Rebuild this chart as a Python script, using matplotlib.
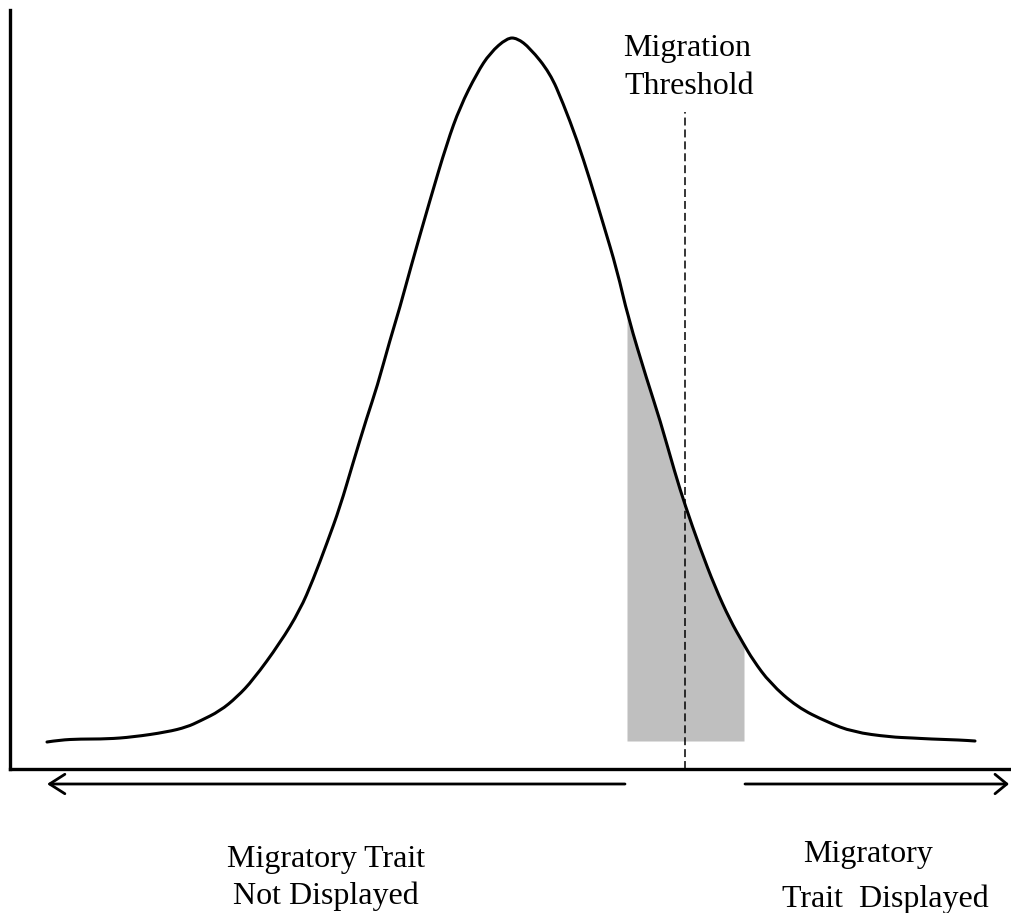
import numpy as np
import matplotlib
matplotlib.use("Agg")
import matplotlib.pyplot as plt
from matplotlib.path import Path
from matplotlib.patches import PathPatch

# --------------------------------------------------
# Data (trait value vs. frequency, arbitrary units)
# --------------------------------------------------
trait = [47, 60, 80, 107, 133, 167, 187, 200, 220, 237, 253, 280, 300, 313,
         327, 340, 353, 367, 377, 390, 400, 410, 430, 447, 460, 477, 490,
         507, 517, 530, 550, 563, 577, 590, 603, 617, 628, 647, 660, 675,
         685, 700, 715, 730, 743, 753, 770, 797, 827, 853, 890, 913, 930,
         960, 975]
freq = [27, 29, 30, 30, 32, 37, 42, 48, 58, 72, 89, 126, 159, 189,
        226, 262, 306, 352, 382, 429, 462, 499, 569, 626, 662, 696, 716,
        731, 731, 721, 696, 666, 629, 589, 546, 499, 452, 389, 349, 296,
        264, 221, 182, 149, 126, 109, 86, 62, 47, 37, 32, 31, 30,
        29, 28]

threshold = 685
shade_left = 627
shade_right = 744
shade_base = 28

plt.rcParams["font.family"] = ["Liberation Serif", "DejaVu Serif"]

fig = plt.figure(figsize=(10.11, 9.13), dpi=100)
ax = fig.add_axes([10 / 1011, 144 / 913, 1001 / 1011, 759 / 913])
ax.set_xlim(10, 1011)
ax.set_ylim(0, 759)

x = np.array(trait, dtype=float)
y = np.array(freq, dtype=float)

# shaded tail under the curve
mask = (x > shade_left) & (x < shade_right)
xs = np.concatenate([[shade_left], x[mask], [shade_right]])
ys = np.concatenate([[np.interp(shade_left, x, y)], y[mask],
                     [np.interp(shade_right, x, y)]])
ax.fill_between(xs, shade_base, ys, color="#bfbfbf", lw=0, zorder=1)

# distribution curve, drawn as a smooth path through the read points
pts = np.column_stack([x, y])
verts = [pts[0]]
codes = [Path.MOVETO]
for i in range(1, len(pts) - 1):
    mid = (pts[i] + pts[i + 1]) / 2
    verts += [pts[i], mid]
    codes += [Path.CURVE3, Path.CURVE3]
verts.append(pts[-1])
codes.append(Path.LINETO)
curve = PathPatch(Path(verts, codes), fill=False, edgecolor="black",
                  lw=2.2, capstyle="round", joinstyle="round", zorder=3)
ax.add_patch(curve)

# threshold
ax.plot([threshold, threshold], [0, 657], color="black", lw=1.1,
        ls=(0, (5.2, 2.6)), zorder=2)

# axes
for s in ["top", "right"]:
    ax.spines[s].set_visible(False)
for s in ["left", "bottom"]:
    ax.spines[s].set_linewidth(2.4)
ax.set_xticks([])
ax.set_yticks([])

# arrows under the axis
ax.annotate("", xy=(47, -15), xytext=(625, -15), annotation_clip=False,
            arrowprops=dict(arrowstyle="->,head_length=1.1,head_width=0.7",
                            lw=2, color="black", shrinkA=0, shrinkB=0,
                            mutation_scale=10))
ax.annotate("", xy=(1009, -15), xytext=(745, -15), annotation_clip=False,
            arrowprops=dict(arrowstyle="->,head_length=0.85,head_width=0.7",
                            lw=2, color="black", shrinkA=0, shrinkB=0,
                            mutation_scale=10))

# labels
fs = 23
ax.text(687.5, 769 - 56, "Migration", fontsize=fs, ha="center", va="baseline")
ax.text(689, 769 - 94, "Threshold", fontsize=fs, ha="center", va="baseline")
ax.text(326, 769 - 867, "Migratory Trait", fontsize=fs, ha="center", va="baseline")
ax.text(326, 769 - 904, "Not Displayed", fontsize=fs, ha="center", va="baseline")
ax.text(867.5, 769 - 862, "Migratory", fontsize=fs, ha="center", va="baseline")
ax.text(885.5, 769 - 907, "Trait  Displayed", fontsize=fs, ha="center", va="baseline")

fig.savefig("out.png", dpi=100)
